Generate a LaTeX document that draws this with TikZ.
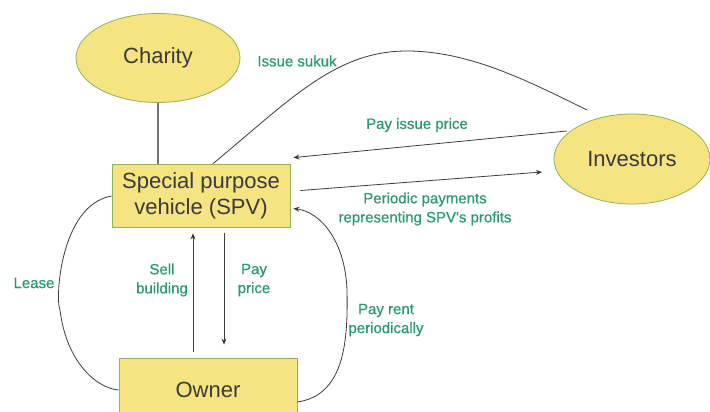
\documentclass[tikz,border=0pt]{standalone}
\usepackage{fontspec}
\setmainfont{Liberation Sans}
\newfontfamily\labelfont[FakeBold=0.5]{Liberation Sans}
\usetikzlibrary{arrows.meta,calc,shapes.geometric}
\definecolor{boxfill}{HTML}{F6E482}
\definecolor{boxline}{HTML}{8DB654}
\definecolor{labelgreen}{HTML}{2A9870}
\definecolor{maintext}{HTML}{3A3A3A}
\definecolor{wire}{HTML}{3C3C3C}
\tikzset{
  party/.style={ellipse, draw=boxline, fill=boxfill, line width=0.8pt,
    inner sep=0pt, text=maintext, font=\fontsize{22}{26}\selectfont},
  entity/.style={rectangle, draw=boxline, fill=boxfill, line width=0.8pt,
    inner sep=0pt, text=maintext, align=center, font=\fontsize{22}{26}\selectfont},
  flowlabel/.style={text=labelgreen, align=center, inner sep=0pt,
    font=\labelfont\fontsize{15}{19}\selectfont},
  flow/.style={draw=wire, line width=0.8pt},
  flowarrow/.style={flow, -{Stealth[length=6pt,width=5pt]}},
}
\begin{document}
\begin{tikzpicture}[x=1pt,y=-1pt]
  \useasboundingbox (0,0) rectangle (710,412);
  \clip (0,0) rectangle (710,412);
  \fill[white] (0,0) rectangle (710,412);

  % parties
  \node[party, minimum width=164pt, minimum height=89pt] (charity) at (158,58) {Charity};
  \node[party, minimum width=156pt, minimum height=90pt] (inv) at (632,159) {Investors};
  \node[entity, minimum width=178pt, minimum height=63pt] (spv) at (201,195.5)
    {Special purpose\\vehicle (SPV)};
  \node[entity, minimum width=178pt, minimum height=64pt] (owner) at (208,390) {Owner};

  % charity link
  \draw[draw=gray!110, line width=1.3pt] (charity.south) -- (charity.south |- spv.north);

  % issue sukuk
  \coordinate (sukA) at ($(spv.north)+(12,0)$);
  \coordinate (sukB) at ($(inv.center)+(-45,-49)$);
  \draw[flow] (sukA) .. controls (290,100) and (335,51) .. (407,51)
              .. controls (470,51) and (530,82) .. (sukB);

  % investor flows
  \draw[flowarrow] ($(inv.center)+(-65,-28)$) -- ($(spv.north east)+(3,-6)$);
  \draw[flowarrow] ($(spv.east)+(10,-5)$) -- ($(inv.center)+(-90,13)$);

  % SPV <-> owner
  \draw[flowarrow] ($(owner.north)+(-15,-6)$) -- ($(spv.south)+(-8,6)$);
  \draw[flowarrow] ($(spv.south)+(23,6)$) -- ($(owner.north)+(16,-13)$);

  % lease loop
  \draw[flow] ($(spv.west)+(0,0.5)$) .. controls (60,205) and (55,300) .. (60,310)
     .. controls (66,360) and (95,388) .. ($(owner.west)+(0,0)$);

  % rent loop
  \draw[flowarrow] ($(owner.east)+(0,12)$) .. controls (345,395) and (348,340) .. (347,290)
     .. controls (345,240) and (320,212) .. ($(spv.east)+(3,13)$);

  % labels
  \node[flowlabel] (lsukuk) at (297,61) {Issue sukuk};
  \node[flowlabel] (lpay) at (417,125) {Pay issue price};
  \node[flowlabel] (lperiodic) at (425,209) {Periodic payments\\representing SPV's profits};
  \node[flowlabel] (llease) at (34,283) {Lease};
  \node[flowlabel] (lsell) at (162,280) {Sell\\building};
  \node[flowlabel] (lprice) at (254,280) {Pay\\price};
  \node[flowlabel] (lrent) at (386,320) {Pay rent\\periodically};
\end{tikzpicture}
\end{document}
